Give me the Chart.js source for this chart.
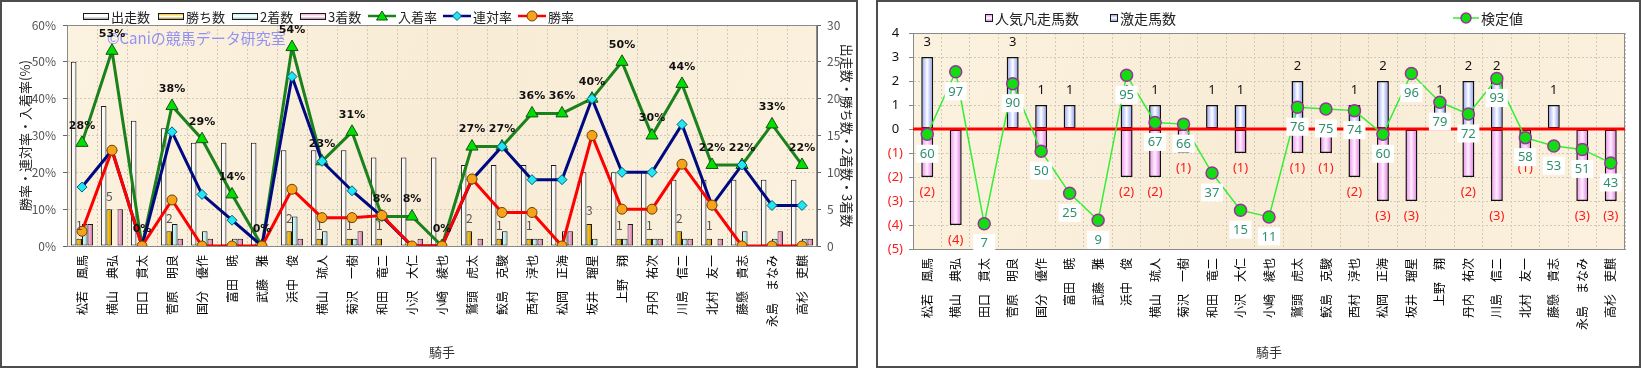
<!DOCTYPE html>
<html lang="ja"><head><meta charset="utf-8">
<script src="https://cdn.jsdelivr.net/npm/chart.js@4.4.1/dist/chart.umd.min.js"></script>
<style>
html,body{margin:0;padding:0;background:#fff;}
body{width:1641px;height:368px;position:relative;overflow:hidden;font-family:'Noto Sans CJK JP','Noto Sans',sans-serif;}
canvas{position:absolute;top:0;}
.frame{position:absolute;top:0;height:368px;box-sizing:border-box;border:2px solid #4d4d4d;pointer-events:none;}
.lg{position:absolute;display:flex;align-items:center;font-size:13px;color:#222;white-space:nowrap;line-height:1;height:14px;}
.lg svg{margin-right:2px;display:block;}
</style></head><body>
<canvas id="c1" width="858" height="368" style="left:0"></canvas>
<canvas id="c2" width="765" height="368" style="left:876px"></canvas>
<div class="frame" style="left:0;width:858px"></div>
<div class="frame" style="left:876px;width:765px"></div>
<div id="legends"></div>
<script>
// ---------- data ----------
const jockeys = ['松若　風馬','横山　典弘','田口　貫太','菅原　明良','国分　優作','富田　暁','武藤　雅','浜中　俊','横山　琉人','菊沢　一樹','和田　竜二','小沢　大仁','小崎　綾也','鷲頭　虎太','鮫島　克駿','西村　淳也','松岡　正海','坂井　瑠星','上野　翔','丹内　祐次','川島　信二','北村　友一','藤懸　貴志','永島　まなみ','高杉　吏麒'];
const starts  = [25,19,17,16,14,14,14,13,13,13,12,12,12,11,11,11,11,10,10,10,9,9,9,9,9];
const wins    = [1,5,0,2,0,0,0,2,1,1,1,0,0,2,1,1,0,3,1,1,2,1,0,0,0];
const seconds = [3,0,0,3,2,1,0,4,2,1,0,0,0,0,2,1,2,1,1,1,1,0,2,1,1];
const thirds  = [3,5,0,1,1,1,0,1,0,2,0,1,0,1,0,1,2,0,3,1,1,1,0,2,1];
const placeRate    = [28,53,0,38,29,14,0,54,23,31,8,8,0,27,27,36,36,40,50,30,44,22,22,33,22];
const quinellaRate = [16,26,0,31,14,7,0,46,23,15,8,0,0,18,27,18,18,40,20,20,33,11,22,11,11];
const winRate      = [4,26,0,12.5,0,0,0,15.4,7.7,7.7,8.3,0,0,18.2,9.1,9.1,0,30,10,10,22.2,11.1,0,0,0];
const rateTicks  = [0,10,20,30,40,50,60];
const countTicks = [0,5,10,15,20,25,30];

const upsetCounts = [3,0,0,3,1,1,0,1,1,0,1,1,0,2,0,1,2,0,1,2,2,0,1,0,0];          // 激走馬数
const flopCounts  = [-2,-4,0,0,-1,0,0,-2,-2,-1,0,-1,0,-1,-1,-2,-3,-3,0,-2,-3,-1,0,-3,-3]; // 人気凡走馬数
const testValues  = [60,97,7,90,50,25,9,95,67,66,37,15,11,76,75,74,60,96,79,72,93,58,53,51,43]; // 検定値
const countTicks2 = [4,3,2,1,0,-1,-2,-3,-4,-5];

// ---------- common ----------
Chart.defaults.font.family = "'Noto Sans CJK JP','Noto Sans',sans-serif";
Chart.defaults.animation = false;
const JP = "'Noto Sans CJK JP','Noto Sans',sans-serif";
const GRID = '#d3c9b8';

const bgPlugin = {
  id:'bg',
  beforeDraw(chart){
    const {ctx, chartArea:a} = chart;
    ctx.save();
    const g = ctx.createLinearGradient(a.left,a.top,a.right,a.bottom);
    g.addColorStop(0,'#fbf2df'); g.addColorStop(0.5,'#f8ecd6'); g.addColorStop(1,'#fbf1de');
    ctx.fillStyle = g;
    ctx.fillRect(a.left,a.top,a.right-a.left,a.bottom-a.top);
    ctx.restore();
  },
  beforeDatasetsDraw(chart){
    const {ctx, chartArea:a} = chart;
    ctx.save();
    ctx.strokeStyle = '#8a8a8a'; ctx.lineWidth = 1;
    ctx.strokeRect(Math.round(a.left)+0.5, Math.round(a.top)+0.5, Math.round(a.right-a.left)-1, Math.round(a.bottom-a.top));
    ctx.restore();
    chart.data.datasets.forEach((ds,i)=>{
      if(!ds.gradStops) return;
      const meta = chart.getDatasetMeta(i);
      meta.data.forEach(el=>{
        const w = el.width, x0 = el.x - w/2;
        const g = ctx.createLinearGradient(x0,0,x0+w,0);
        ds.gradStops.forEach(s=>g.addColorStop(s[0],s[1]));
        el.options.backgroundColor = g;
      });
    });
  }
};

// ---------- left chart ----------
const barBase = {type:'bar', yAxisID:'y1', order:3, borderColor:'#1a1a1a', borderWidth:1, borderSkipped:false,
  categoryPercentage:0.74, barPercentage:1};

const labels1 = {
  id:'labels1',
  beforeDatasetsDraw(chart){
    const {ctx, chartArea:a} = chart;
    ctx.save();
    ctx.font = "15px " + JP;
    ctx.fillStyle = 'rgba(128,128,250,0.85)';
    ctx.textAlign='left'; ctx.textBaseline='middle';
    ctx.fillText('©Caniの競馬データ研究室', a.left+40, a.top+13);
    ctx.restore();
  },
  afterDatasetsDraw(chart){
    const ctx = chart.ctx;
    ctx.save();
    ctx.textAlign='center'; ctx.textBaseline='middle';
    const place = chart.getDatasetMeta(2);
    ctx.font = "bold 11px 'DejaVu Sans'"; ctx.fillStyle = '#111';
    place.data.forEach((el,i)=>ctx.fillText(chart.data.datasets[2].data[i]+'%', el.x, el.y-17));
    const w = chart.getDatasetMeta(4);
    ctx.font = "12px " + JP; ctx.fillStyle = '#555';
    w.data.forEach((el,i)=>{ const v = chart.data.datasets[4].data[i]; if(v>0) ctx.fillText(String(v), el.x, el.y-13); });
    ctx.restore();
  }
};

const chart1 = new Chart(document.getElementById('c1'), {
  type:'bar',
  data:{
    labels: jockeys,
    datasets:[
      {type:'line', label:'勝率', data:winRate, yAxisID:'y', order:0, borderColor:'#ff0000', borderWidth:3,
        pointStyle:'circle', pointRadius:5, pointBackgroundColor:'#f7a21b', pointBorderColor:'#6b4300', pointBorderWidth:1},
      {type:'line', label:'連対率', data:quinellaRate, yAxisID:'y', order:1, borderColor:'#000a80', borderWidth:3,
        pointStyle:'rectRot', pointRadius:5, pointBackgroundColor:'#22e6f2', pointBorderColor:'#00607a', pointBorderWidth:1},
      {type:'line', label:'入着率', data:placeRate, yAxisID:'y', order:2, borderColor:'#1b811b', borderWidth:3,
        pointStyle:'triangle', pointRadius:7, pointBackgroundColor:'#00e000', pointBorderColor:'#145214', pointBorderWidth:1},
      Object.assign({label:'出走数', data:starts, backgroundColor:()=>'#f4f4f4',
        gradStops:[[0,'#c8c8c8'],[0.3,'#ffffff'],[0.7,'#f2f2f2'],[1,'#909090']]}, barBase),
      Object.assign({label:'勝ち数', data:wins, backgroundColor:()=>'#f0b800',
        gradStops:[[0,'#ffd640'],[0.45,'#f2b900'],[1,'#b88400']]}, barBase),
      Object.assign({label:'2着数', data:seconds, backgroundColor:()=>'#c4f0f0',
        gradStops:[[0,'#e6ffff'],[0.45,'#c2f0f2'],[1,'#80c4cc']]}, barBase),
      Object.assign({label:'3着数', data:thirds, backgroundColor:()=>'#efa0c8',
        gradStops:[[0,'#ffd0e8'],[0.45,'#f0a2cc'],[1,'#c06898']]}, barBase)
    ]
  },
  options:{
    responsive:false, animation:false, events:[],
    layout:{padding:{left:4, right:0, top:25, bottom:4}},
    plugins:{legend:{display:false}, tooltip:{enabled:false}},
    scales:{
      x:{
        grid:{color:GRID, offset:true, drawTicks:false},
        border:{color:'#666', dash:[2,2]},
        ticks:{autoSkip:false, minRotation:90, maxRotation:90, padding:9, color:'#000', font:{size:12}},
        title:{display:true, text:'騎手', color:'#333', font:{size:13}, padding:{top:0,bottom:4}},
        afterFit(s){ s.height = 118; }
      },
      y:{
        position:'left', min:0, max:60,
        afterBuildTicks(s){ s.ticks = rateTicks.map(v=>({value:v})); },
        ticks:{callback:v=>v+'%', color:'#555', font:{size:12}, padding:7},
        grid:{color:GRID, tickLength:4, tickColor:'#666'},
        border:{color:'#666', dash:[2,2]},
        title:{display:true, text:'勝率・連対率・入着率(%)', color:'#222', font:{size:13}, padding:{top:13,bottom:0}},
        afterFit(s){ s.width = 63; }
      },
      y1:{
        position:'right', min:0, max:30,
        afterBuildTicks(s){ s.ticks = countTicks.map(v=>({value:v})); },
        ticks:{color:'#555', font:{size:12}, padding:6},
        grid:{drawOnChartArea:false, tickLength:4, tickColor:'#666'},
        border:{color:'#666'},
        title:{display:true, text:'出走数・勝ち数・2着数・3着数', color:'#222', font:{size:13}, padding:{top:3,bottom:0}},
        afterFit(s){ s.width = 41; }
      }
    }
  },
  plugins:[bgPlugin, labels1]
});

// ---------- right chart ----------
const labels2 = {
  id:'labels2',
  afterDatasetDraw(chart,args){
    const ds = chart.data.datasets[args.index];
    if(ds.type==='line') return;
    const ctx = chart.ctx;
    ctx.save();
    ctx.textAlign='center'; ctx.textBaseline='middle';
    ctx.font = "13px 'Noto Sans'";
    args.meta.data.forEach((el,i)=>{
      const v = ds.data[i];
      if(v>0){ ctx.fillStyle='#111'; ctx.fillText(String(v), el.x, el.y-15); }
      else if(v<0){ ctx.fillStyle='#ff1a1a'; ctx.fillText('('+(-v)+')', el.x, el.y+15); }
    });
    ctx.restore();
  },
  beforeDatasetDraw(chart,args){
    const ds = chart.data.datasets[args.index];
    if(ds.type!=='line') return;
    const {ctx, chartArea:a} = chart;
    const y = chart.scales.y.getPixelForValue(0);
    ctx.save(); ctx.strokeStyle='#ff0000'; ctx.lineWidth=3;
    ctx.beginPath(); ctx.moveTo(a.left,y); ctx.lineTo(a.right,y); ctx.stroke(); ctx.restore();
  },
  afterDatasetsDraw(chart){
    const ctx = chart.ctx;
    const meta = chart.getDatasetMeta(0);
    ctx.save();
    ctx.textAlign='center'; ctx.textBaseline='middle';
    ctx.font = "13px 'Noto Sans'";
    meta.data.forEach((el,i)=>{
      const t = String(chart.data.datasets[0].data[i]);
      const cy = el.y + 19.5;
      ctx.fillStyle='#ffffff'; ctx.fillRect(el.x-11, cy-9, 22, 18);
      ctx.fillStyle='#2f8f6c'; ctx.fillText(t, el.x, cy+0.5);
    });
    ctx.restore();
  }
};

const chart2 = new Chart(document.getElementById('c2'), {
  type:'bar',
  data:{
    labels: jockeys,
    datasets:[
      {type:'line', label:'検定値', data:testValues, yAxisID:'y2', order:0, borderColor:'#33ee33', borderWidth:1.5,
        pointStyle:'circle', pointRadius:6, pointBackgroundColor:'#11dd11', pointBorderColor:'#993399', pointBorderWidth:1.5},
      {label:'人気凡走馬数', data:flopCounts, yAxisID:'y', order:1, stack:'s', borderColor:'#111', borderWidth:1.5, borderSkipped:false,
        barPercentage:0.42, categoryPercentage:1, backgroundColor:()=>'#f4a6f4',
        gradStops:[[0,'#ee88ee'],[0.5,'#ffeeff'],[1,'#e070e0']]},
      {label:'激走馬数', data:upsetCounts, yAxisID:'y', order:1, stack:'s', borderColor:'#111', borderWidth:1.5, borderSkipped:false,
        barPercentage:0.42, categoryPercentage:1, backgroundColor:()=>'#a8b4f8',
        gradStops:[[0,'#8a9cf4'],[0.5,'#ffffff'],[1,'#7d8ff0']]}
    ]
  },
  options:{
    responsive:false, animation:false, events:[],
    layout:{padding:{left:0, right:16, top:33, bottom:4}},
    plugins:{legend:{display:false}, tooltip:{enabled:false}},
    scales:{
      x:{
        stacked:true,
        grid:{color:GRID, offset:true, drawTicks:false},
        border:{color:'#888', dash:[2,2]},
        ticks:{autoSkip:false, minRotation:90, maxRotation:90, padding:9, color:'#000', font:{size:12}},
        title:{display:true, text:'騎手', color:'#333', font:{size:13}, padding:{top:0,bottom:4}},
        afterFit(s){ s.height = 115; }
      },
      y:{
        stacked:true, position:'left', min:-5, max:4,
        afterBuildTicks(s){ s.ticks = countTicks2.map(v=>({value:v})); },
        ticks:{callback:v=>v<0?'('+(-v)+')':String(v), color:c=>c.tick.value<0?'#ff1a1a':'#111',
          font:{size:13, family:"'Noto Sans'"}, padding:6, crossAlign:'center'},
        grid:{color:GRID, tickLength:4, tickColor:'#888'},
        border:{color:'#888', dash:[2,2]},
        afterFit(s){ s.width = 37; }
      },
      y2:{display:false, min:-8, max:120}
    }
  },
  plugins:[bgPlugin, labels2]
});

// ---------- legends (HTML) ----------
let gid = 0;
function barIcon(stops, w, h){
  const id = 'lgGrad'+(gid++);
  return `<svg width="${w}" height="${h}"><defs><linearGradient id="${id}" x1="0" y1="0" x2="0" y2="1">`+
    stops.map(s=>`<stop offset="${s[0]}" stop-color="${s[1]}"/>`).join('')+
    `</linearGradient></defs><rect x="0.5" y="0.5" width="${w-1}" height="${h-1}" fill="url(#${id})" stroke="#1a1a1a" stroke-width="1"/></svg>`;
}
function lineIcon(ds, w){
  const c = w/2, y = 7;
  let m = '';
  const r = ds.pointRadius;
  if(ds.pointStyle==='triangle') m = `<polygon points="${c},${y-5} ${c+5.5},${y+4} ${c-5.5},${y+4}" fill="${ds.pointBackgroundColor}" stroke="${ds.pointBorderColor}"/>`;
  else if(ds.pointStyle==='rectRot') m = `<polygon points="${c},${y-4.5} ${c+4.5},${y} ${c},${y+4.5} ${c-4.5},${y}" fill="${ds.pointBackgroundColor}" stroke="${ds.pointBorderColor}"/>`;
  else m = `<circle cx="${c}" cy="${y}" r="${Math.min(r,5)}" fill="${ds.pointBackgroundColor}" stroke="${ds.pointBorderColor}" stroke-width="${ds.pointBorderWidth}"/>`;
  return `<svg width="${w}" height="14"><line x1="0" y1="${y}" x2="${w}" y2="${y}" stroke="${ds.borderColor}" stroke-width="${Math.min(ds.borderWidth,2.5)}"/>${m}</svg>`;
}
const lgHost = document.getElementById('legends');
function addLegend(x, y, icon, text, fs){
  const d = document.createElement('div');
  d.className='lg'; d.style.left=x+'px'; d.style.top=y+'px';
  if(fs) d.style.fontSize = fs+'px';
  d.innerHTML = icon + '<span>'+text+'</span>';
  lgHost.appendChild(d);
}
const d1 = chart1.data.datasets;
const lgX1 = [83,158,232,300,368,443,518];
const lgOrder1 = [3,4,5,6,2,1,0];
lgOrder1.forEach((di,k)=>{
  const ds = d1[di];
  const icon = ds.type==='line' ? lineIcon(ds, 28) : barIcon([[0,ds.gradStops[1][1]],[0.5,'#ffffff'],[1,ds.gradStops[ds.gradStops.length-1][1]]], 26, 7);
  addLegend(lgX1[k], 9, icon, ds.label, 13);
});
const d2 = chart2.data.datasets;
addLegend(985, 11, barIcon([[0,d2[1].gradStops[0][1]],[0.5,'#fff'],[1,d2[1].gradStops[2][1]]],8,8), d2[1].label, 14);
addLegend(1110, 11, barIcon([[0,d2[2].gradStops[0][1]],[0.5,'#fff'],[1,d2[2].gradStops[2][1]]],8,8), d2[2].label, 14);
addLegend(1453, 11, lineIcon(Object.assign({}, d2[0], {pointRadius:5}), 26), d2[0].label, 14);
</script>
</body></html>
